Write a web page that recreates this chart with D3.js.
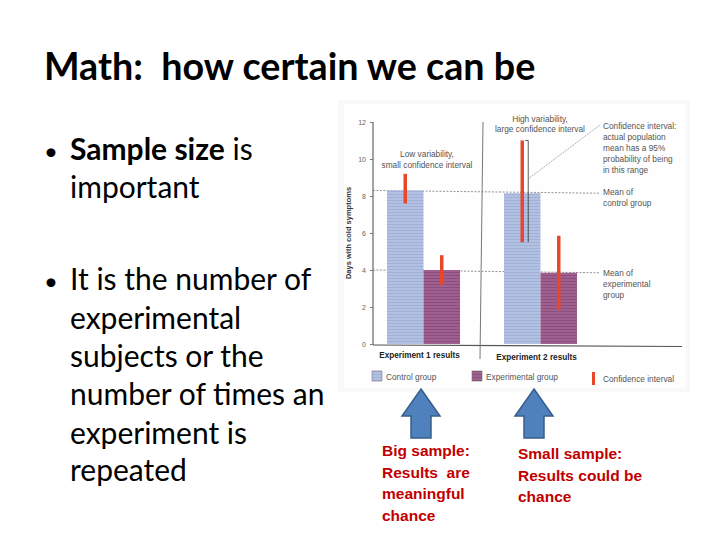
<!DOCTYPE html>
<html><head><meta charset="utf-8">
<script src="https://cdn.jsdelivr.net/npm/d3@7"></script>
<style>html,body{margin:0;padding:0;background:#fff;}svg{display:block;}text{white-space:pre;}</style>
</head><body>
<svg id="c" width="720" height="540"></svg>
<script>
// ---- data ----
const experiments = ["Experiment 1 results", "Experiment 2 results"];
const groups = ["Control group", "Experimental group"];
const controlMeans = [8.3, 8.15];
const experimentalMeans = [4.0, 3.85];
const controlCI = [[7.6, 9.2], [5.5, 11.0]];
const experimentalCI = [[3.2, 4.8], [1.85, 5.85]];
const yTicks = [0, 2, 4, 6, 8, 10, 12];
const legendLabels = ["Control group", "Experimental group", "Confidence interval"];
const bulletLines = [["Sample size", " is"], ["important"], ["It is the number of"], ["experimental"], ["subjects or the"], ["number of times an"], ["experiment is"], ["repeated"]];
const noteBig = ["Big sample:", "Results  are", "meaningful", "chance"];
const noteSmall = ["Small sample:", "Results could be", "chance"];

const svg = d3.select("#c");
const body = "Lato, 'Open Sans', sans-serif";
const arial = "'Liberation Sans', Arial, sans-serif";

// title
svg.append("text").attr("x", 44).attr("y", 80).attr("font-family", body)
  .attr("font-weight", 700).attr("font-size", 37.7).attr("fill", "#000")
  .text("Math:  how certain we can be");

// bullets
const bl = [{y:150, b:true}, {y:188}, {y:280, b:true}, {y:319}, {y:357}, {y:395}, {y:434}, {y:471}];
bulletLines.forEach((ln, i) => {
  const info = bl[i];
  if (info.b) svg.append("text").attr("x", 44).attr("y", info.y + 10).attr("font-family", body)
    .attr("font-size", 24).text("•");
  const t = svg.append("text").attr("x", 70).attr("y", info.y + 10).attr("font-family", body)
    .attr("font-size", 30).attr("fill", "#000");
  if (i === 0) {
    t.append("tspan").attr("font-weight", 700).text(ln[0]);
    t.append("tspan").text(ln[1]);
  } else t.text(ln[0]);
});

// chart image background
svg.append("rect").attr("x", 338).attr("y", 100).attr("width", 352).attr("height", 292).attr("fill", "#f9f9f9");
svg.append("rect").attr("x", 344).attr("y", 104).attr("width", 342).attr("height", 284).attr("fill", "#fefefe");

// patterns
const defs = svg.append("defs");
function stripe(id, base, line) {
  const p = defs.append("pattern").attr("id", id).attr("patternUnits", "userSpaceOnUse").attr("width", 6).attr("height", 3);
  p.append("rect").attr("width", 6).attr("height", 3).attr("fill", base);
  p.append("rect").attr("y", 2).attr("width", 6).attr("height", 1).attr("fill", line);
}
stripe("pc", "#b2c0e2", "#a0b0d6");
stripe("pe", "#a0608f", "#8c4e7d");
const fills = ["url(#pc)", "url(#pe)"];

// scales
const y = d3.scaleLinear().domain([0, 12]).range([344, 122]);
const x = d3.scaleBand().domain(experiments).range([387, 577]).paddingInner(0.376).paddingOuter(0);
const xs = d3.scaleBand().domain(groups).range([0, x.bandwidth()]);

// axis line + ticks
const axisX = 373;
svg.append("line").attr("x1", axisX).attr("x2", axisX).attr("y1", y(12)).attr("y2", y(0) + 1).attr("stroke", "#666").attr("stroke-width", 1.2);
svg.append("line").attr("x1", axisX).attr("x2", 682).attr("y1", y(0) + 1).attr("y2", y(0) + 2.5).attr("stroke", "#555").attr("stroke-width", 1.2);
const yAxis = d3.axisLeft(y).tickValues(yTicks).tickSize(3).tickPadding(4);
const ga = svg.append("g").attr("transform", `translate(${axisX},0)`).call(yAxis);
ga.select(".domain").remove();
ga.selectAll("line").attr("stroke", "#777");
ga.selectAll("text").attr("font-family", arial).attr("font-size", 7).attr("fill", "#666");
svg.append("text").attr("transform", `translate(351,${y(6)}) rotate(-90)`).attr("text-anchor", "middle")
  .attr("font-family", arial).attr("font-weight", 700).attr("font-size", 7.5).attr("fill", "#333")
  .text("Days with cold symptoms");

// divider
svg.append("line").attr("x1", 483).attr("x2", 480).attr("y1", 122).attr("y2", 359).attr("stroke", "#777").attr("stroke-width", 1);

// dashed mean lines
svg.append("line").attr("x1", axisX).attr("x2", 600).attr("y1", y(controlMeans[0])).attr("y2", y(controlMeans[1]))
  .attr("stroke", "#777").attr("stroke-width", 0.8).attr("stroke-dasharray", "2,1.5");
svg.append("line").attr("x1", axisX).attr("x2", 600).attr("y1", y(experimentalMeans[0])).attr("y2", y(experimentalMeans[1]))
  .attr("stroke", "#777").attr("stroke-width", 0.8).attr("stroke-dasharray", "2,1.5");

// bars
const barData = [];
experiments.forEach((e, i) => {
  barData.push({e, g: groups[0], v: controlMeans[i], ci: controlCI[i]});
  barData.push({e, g: groups[1], v: experimentalMeans[i], ci: experimentalCI[i]});
});
svg.selectAll(".bar").data(barData).join("rect").attr("class", "bar")
  .attr("x", d => x(d.e) + xs(d.g)).attr("width", xs.bandwidth())
  .attr("y", d => y(d.v)).attr("height", d => y(0) - y(d.v))
  .attr("fill", d => fills[groups.indexOf(d.g)]);

// confidence intervals
svg.selectAll(".ci").data(barData).join("line").attr("class", "ci")
  .attr("x1", d => x(d.e) + xs(d.g) + xs.bandwidth() / 2)
  .attr("x2", d => x(d.e) + xs(d.g) + xs.bandwidth() / 2)
  .attr("y1", d => y(d.ci[1])).attr("y2", d => y(d.ci[0]))
  .attr("stroke", "#e8472a").attr("stroke-width", 3.5);

// bracket for high variability CI
const bx = x(experiments[1]) + xs(groups[0]) + xs.bandwidth() / 2 + 6;
svg.append("line").attr("x1", bx).attr("x2", bx).attr("y1", y(controlCI[1][1])).attr("y2", y(controlCI[1][0]))
  .attr("stroke", "#333").attr("stroke-width", 0.8);
svg.append("line").attr("x1", bx - 3).attr("x2", bx).attr("y1", y(controlCI[1][1])).attr("y2", y(controlCI[1][1]))
  .attr("stroke", "#333").attr("stroke-width", 0.8);
svg.append("line").attr("x1", bx + 1).attr("x2", 600).attr("y1", 178).attr("y2", 125)
  .attr("stroke", "#777").attr("stroke-width", 0.6).attr("stroke-dasharray", "2,1");

// category labels
svg.selectAll(".cat").data(experiments).join("text").attr("class", "cat")
  .attr("x", d => x(d) + x.bandwidth() / 2 - 4).attr("y", (d, i) => 358 + i * 2)
  .attr("text-anchor", "middle").attr("font-family", arial).attr("font-weight", 700)
  .attr("font-size", 8.2).attr("fill", "#222").text(d => d);

// chart annotations
function txt(lines, x0, y0, dy, anchor) {
  lines.forEach((l, i) => svg.append("text").attr("x", x0).attr("y", y0 + i * dy).attr("text-anchor", anchor || "start")
    .attr("font-family", arial).attr("font-size", 8.3).attr("fill", "#555").text(l));
}
txt(["Low variability,", "small confidence interval"], 427, 157, 11, "middle");
txt(["High variability,", "large confidence interval"], 540, 122, 10, "middle");
txt(["Confidence interval:", "actual population", "mean has a 95%", "probability of being", "in this range"], 603, 129, 11);
txt(["Mean of", "control group"], 603, 195, 11);
txt(["Mean of", "experimental", "group"], 603, 276, 11);

// legend
const lg = [{x: 372, t: legendLabels[0]}, {x: 472, t: legendLabels[1]}, {x: 592, t: legendLabels[2]}];
lg.forEach((l, i) => {
  if (i < 2) svg.append("rect").attr("x", l.x).attr("y", 371).attr("width", 10).attr("height", 10)
    .attr("fill", fills[i]).attr("stroke", "#777").attr("stroke-width", 0.6);
  else svg.append("rect").attr("x", l.x).attr("y", 372).attr("width", 3).attr("height", 13).attr("fill", "#e8472a");
  svg.append("text").attr("x", l.x + (i < 2 ? 14 : 11)).attr("y", 380 + (i === 2 ? 2 : 0))
    .attr("font-family", arial).attr("font-size", 8.3).attr("fill", "#555").text(l.t);
});

// arrows
function arrow(cx) {
  const p = [[cx, 389], [cx + 19, 416], [cx + 10, 416], [cx + 10, 438], [cx - 10, 438], [cx - 10, 416], [cx - 19, 416]];
  svg.append("path").attr("d", "M" + p.map(q => q.join(",")).join("L") + "Z")
    .attr("fill", "#4f81bd").attr("stroke", "#385d8a").attr("stroke-width", 1.5);
}
arrow(421);
arrow(534);

// red notes
noteBig.forEach((l, i) => svg.append("text").attr("x", 382).attr("y", 456 + i * 21.5)
  .attr("font-family", arial).attr("font-weight", 700).attr("font-size", 15.5).attr("fill", "#c00000").text(l));
noteSmall.forEach((l, i) => svg.append("text").attr("x", 518).attr("y", 459 + i * 21.5)
  .attr("font-family", arial).attr("font-weight", 700).attr("font-size", 15.5).attr("fill", "#c00000").text(l));
</script>
</body></html>
